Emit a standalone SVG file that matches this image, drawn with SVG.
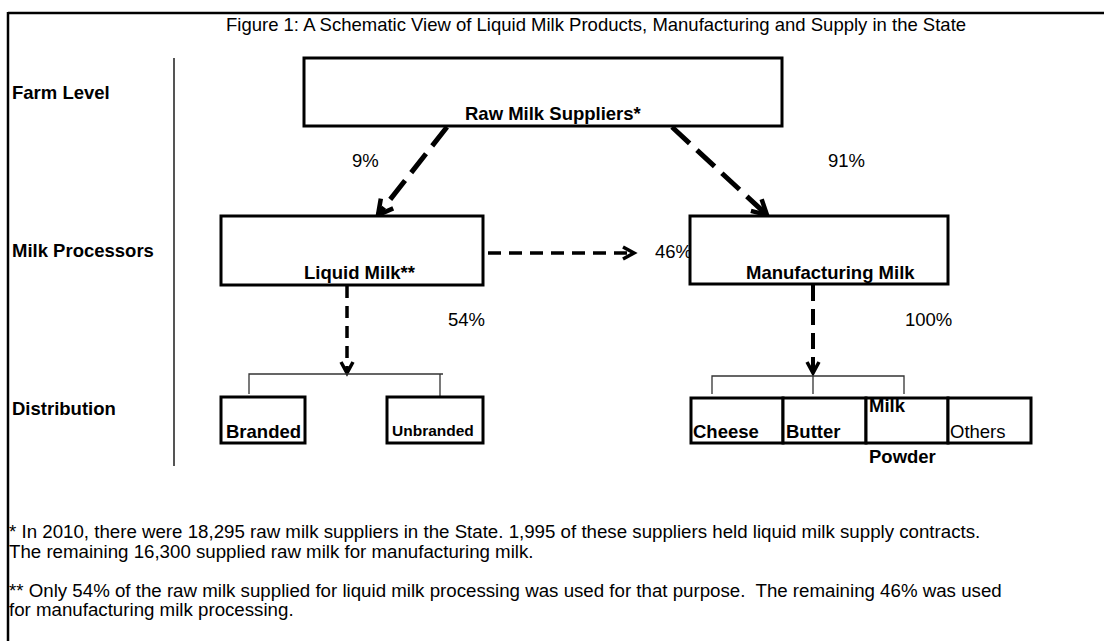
<svg xmlns="http://www.w3.org/2000/svg" width="1104" height="641" viewBox="0 0 1104 641">
<style>
text{font-family:"Liberation Sans",Arial,sans-serif;fill:#000}
.t{font-size:18.5px}
.n{font-size:18.7px}
.b{font-size:18.5px;font-weight:bold}
.s{font-size:15.5px;font-weight:bold}
.box{fill:#fff;stroke:#000;stroke-width:3}
.br{fill:none;stroke:#333;stroke-width:1.3}
.d{fill:none;stroke:#000}
</style>
<defs>
<marker id="ahL" viewBox="0 0 16 16" refX="14" refY="8" markerWidth="18" markerHeight="18" markerUnits="userSpaceOnUse" orient="auto" overflow="visible"><path d="M1,1 L14,8 L1,15" fill="none" stroke="#000" stroke-width="4"/></marker>
<marker id="ahS" viewBox="0 0 14 14" refX="12" refY="7" markerWidth="14" markerHeight="14" markerUnits="userSpaceOnUse" orient="auto" overflow="visible"><path d="M1,1 L12,7 L1,13" fill="none" stroke="#000" stroke-width="3.5"/></marker>
</defs>
<rect width="1104" height="641" fill="#fff"/>
<g id="frame">
<line x1="8" y1="13" x2="1104" y2="13" stroke="#000" stroke-width="2.5"/>
<line x1="8" y1="12" x2="8" y2="641" stroke="#000" stroke-width="2.5"/>
<line x1="174" y1="58" x2="174" y2="466" stroke="#555" stroke-width="2"/>
</g>
<text id="title" class="t" x="226" y="31">Figure 1: A Schematic View of Liquid Milk Products, Manufacturing and Supply in the State</text>
<g id="levels">
<text class="b" x="12" y="99">Farm Level</text>
<text class="b" x="12" y="257">Milk Processors</text>
<text class="b" x="12" y="415">Distribution</text>
</g>
<g id="connectors">
<path class="d" d="M447,127 L378,215" stroke-width="5" stroke-dasharray="24 10" marker-end="url(#ahL)"/>
<path class="d" d="M672,127 L767,215" stroke-width="5" stroke-dasharray="24 10" marker-end="url(#ahL)"/>
<path class="d" d="M488,253 L634,253" stroke-width="3.5" stroke-dasharray="13 8" marker-end="url(#ahS)"/>
<path class="d" d="M347,286 L347,373" stroke-width="3.5" stroke-dasharray="12 8" marker-end="url(#ahS)"/>
<path class="d" d="M813,285 L813,373" stroke-width="4" stroke-dasharray="16 8" marker-end="url(#ahS)"/>
<path class="br" d="M249,394 V374 H443 M440,374 V396"/>
<path class="br" d="M712,394 V376 H904 V394 M813,376 V394"/>
</g>
<g id="pct">
<text class="t" x="352" y="167">9%</text>
<text class="t" x="828" y="167">91%</text>
<text class="t" x="655" y="258">46%</text>
<text class="t" x="448" y="326">54%</text>
<text class="t" x="905" y="326">100%</text>
</g>
<g id="raw-milk-suppliers">
<rect class="box" x="304" y="58" width="478" height="68"/>
<text class="b" x="465" y="120">Raw Milk Suppliers*</text>
</g>
<g id="liquid-milk">
<rect class="box" x="221" y="216" width="262" height="69"/>
<text class="b" x="304" y="279">Liquid Milk**</text>
</g>
<g id="manufacturing-milk">
<rect class="box" x="690" y="216" width="258" height="68"/>
<text class="b" x="746" y="279">Manufacturing Milk</text>
</g>
<g id="branded">
<rect class="box" x="221" y="397" width="84" height="46"/>
<text class="b" x="226" y="438">Branded</text>
</g>
<g id="unbranded">
<rect class="box" x="387" y="397" width="96" height="46"/>
<text class="s" x="392" y="436">Unbranded</text>
</g>
<g id="cheese">
<rect class="box" x="691" y="398" width="92" height="45"/>
<text class="b" x="693" y="438">Cheese</text>
</g>
<g id="butter">
<rect class="box" x="783" y="398" width="83" height="45"/>
<text class="b" x="786" y="438">Butter</text>
</g>
<g id="milk-powder">
<rect class="box" x="866" y="398" width="82" height="45"/>
<text class="b" x="869" y="412">Milk</text>
<text class="b" x="869" y="463">Powder</text>
</g>
<g id="others">
<rect class="box" x="948" y="398" width="83" height="45"/>
<text class="t" x="950" y="438">Others</text>
</g>
<g id="notes">
<text class="n" x="9" y="538">* In 2010, there were 18,295 raw milk suppliers in the State. 1,995 of these suppliers held liquid milk supply contracts.</text>
<text class="n" x="9" y="558">The remaining 16,300 supplied raw milk for manufacturing milk.</text>
<text class="n" x="9" y="597" xml:space="preserve">** Only 54% of the raw milk supplied for liquid milk processing was used for that purpose.  The remaining 46% was used</text>
<text class="n" x="9" y="616">for manufacturing milk processing.</text>
</g>
</svg>
